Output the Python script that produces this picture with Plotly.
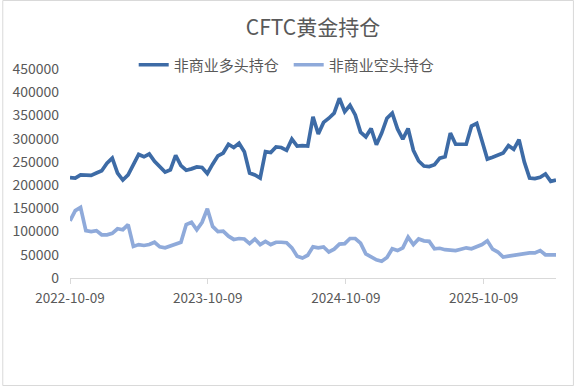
import pandas as pd
import plotly.graph_objects as go

# ---- data (biweekly samples) ----
start_date = "2022-10-09"
n_points = 93
dates = pd.date_range(start_date, periods=n_points, freq="14D")

long_k = [216, 215, 222, 222, 221, 226, 231, 247, 258, 226,
          211, 222, 245, 266, 261, 267, 251, 239, 228, 233,
          264, 242, 232, 235, 239, 238, 225, 245, 263, 269,
          288, 281, 290, 272, 226, 222, 215, 272, 270, 282,
          281, 275, 299, 284, 285, 284, 347, 310, 335, 344,
          355, 387, 358, 372, 351, 314, 304, 322, 287, 312,
          344, 355, 321, 299, 322, 275, 252, 241, 240, 244,
          258, 261, 312, 288, 287, 288, 327, 333, 295, 256,
          260, 264, 269, 285, 277, 298, 250, 215, 214, 217,
          224, 208, 211]

short_k = [123, 145, 152, 102, 100, 102, 93, 93, 96, 106,
           104, 115, 68, 72, 70, 72, 77, 67, 65, 69,
           75, 77, 115, 120, 104, 120, 149, 111, 100, 101,
           90, 83, 85, 84, 74, 84, 72, 79, 72, 77,
           77, 76, 65, 47, 43, 49, 67, 65, 67, 56,
           62, 73, 74, 85, 85, 75, 52, 45, 39, 36,
           44, 63, 59, 65, 88, 72, 84, 80, 79, 63,
           64, 61, 60, 59, 62, 65, 63, 67, 72, 80,
           62, 56, 45, 47, 49, 50, 52, 54, 54, 59,
           50, 49, 50]

long_vals = [v * 1000 for v in long_k]
short_vals = [v * 1000 for v in short_k]

series_names = ["非商业多头持仓", "非商业空头持仓"]
title_text = "CFTC黄金持仓"
x_tick_labels = ["2022-10-09", "2023-10-09", "2024-10-09", "2025-10-09"]
y_ticks = list(range(0, 450001, 50000))

# ---- figure ----
W, H = 574, 386
L, R, T, B = 68, 18, 69, 108
plot_w = W - L - R
plot_h = H - T - B

FONT = "Noto Sans CJK SC"
GREY = "#595959"

fig = go.Figure()
fig.add_trace(go.Scatter(x=dates, y=long_vals, mode="lines", name=series_names[0],
                         line=dict(color="#3D6BA6", width=3.7)))
fig.add_trace(go.Scatter(x=dates, y=short_vals, mode="lines", name=series_names[1],
                         line=dict(color="#8FAADA", width=3.7)))

fig.update_layout(
    width=W, height=H,
    margin=dict(l=L, r=R, t=T, b=B),
    paper_bgcolor="white", plot_bgcolor="white",
    font=dict(family=FONT, color=GREY, size=13),
    title=dict(text=title_text, x=0.5, xref="paper", xanchor="center",
               y=1 - 28 / H, yref="container", yanchor="middle",
               font=dict(family=FONT, size=21, color=GREY)),
    legend=dict(orientation="h", x=0.45, xanchor="center",
                y=(plot_h + T - 65) / plot_h, yanchor="middle",
                font=dict(family=FONT, size=15, color=GREY),
                bgcolor="rgba(0,0,0,0)", itemwidth=30, tracegroupgap=0,
                entrywidth=110, entrywidthmode="pixels"),
    showlegend=True,
)

fig.update_xaxes(
    type="date",
    range=[dates[0], dates[-1]],
    tickvals=x_tick_labels, ticktext=x_tick_labels,
    ticks="outside", ticklen=5, tickcolor="#D9D9D9", tickwidth=1,
    showline=True, linecolor="#D9D9D9", linewidth=1,
    showgrid=False, zeroline=False, ticklabelstandoff=3,
    tickfont=dict(family=FONT, size=13.5, color=GREY),
)
fig.update_yaxes(
    range=[0, 450000],
    tickvals=y_ticks, tickformat="d",
    showgrid=False, zeroline=False, showline=False,
    ticks="", ticklabelstandoff=10,
    tickfont=dict(family=FONT, size=14, color=GREY),
)

# outer chart border
fig.add_shape(type="rect", xref="paper", yref="paper",
              x0=(0.5 - L) / plot_w, x1=(W - 0.5 - L) / plot_w,
              y0=(T + plot_h - (H - 0.5)) / plot_h, y1=(T + plot_h - 0.5) / plot_h,
              line=dict(color="#D9D9D9", width=1), fillcolor="rgba(0,0,0,0)", layer="below")

fig.write_html("out.html")
